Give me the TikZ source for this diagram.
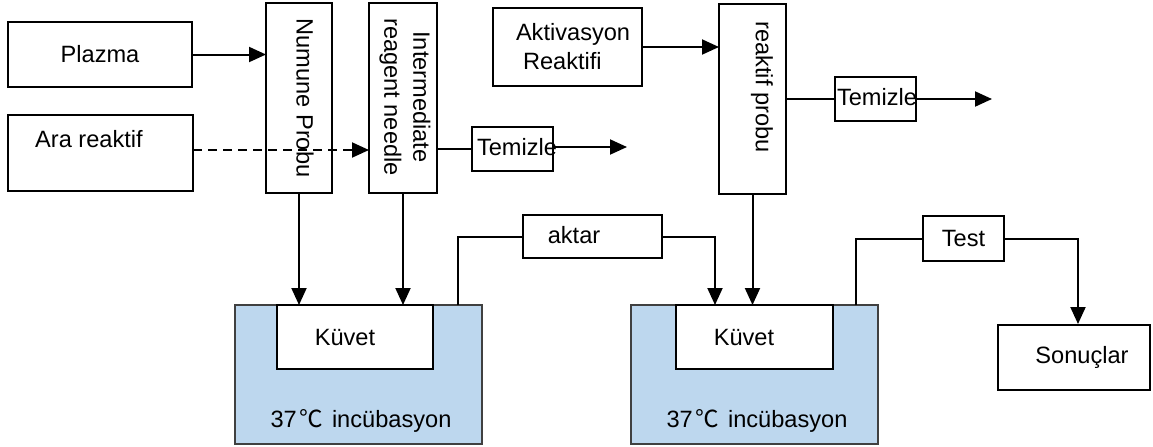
\documentclass[tikz,border=0pt]{standalone}
\usepackage{fontspec}
\setmainfont{Liberation Sans}
\newfontfamily\cjkfont{Noto Sans CJK SC}
\usetikzlibrary{arrows.meta}
\definecolor{bathcol}{HTML}{BDD7EE}
\begin{document}
\begin{tikzpicture}[x=0.5pt,y=-0.5pt,
  every node/.style={font=\fontsize{11.8pt}{14.5pt}\selectfont, inner sep=0pt, outer sep=0pt},
  box/.style={draw, line width=1pt, fill=white},
  bathbox/.style={draw=black!75, line width=0.6pt, fill=bathcol},
  conn/.style={line width=1pt},
  arr/.style={line width=1pt, -{Triangle[length=8.5pt,width=7.5pt]}},
]
\useasboundingbox (0,0) rectangle (1153,446);

% left inputs
\node[box, minimum width=92pt, minimum height=32.5pt] (plazma) at (100,54.5) {Plazma};
\node[box, minimum width=92.5pt, minimum height=38pt] (ara) at (100.5,153) {};
\node (aratxt) at (89,139) {Ara reaktif};

% probes
\node[box, minimum width=33pt, minimum height=95pt] (numune) at (299,98) {};
\node[rotate=-90] (numunetxt) at (305,98) {Numune Probu};
\node[box, minimum width=34pt, minimum height=95pt] (inter) at (403,98) {};
\node[rotate=-90, align=center] (intertxt) at (405,97) {Intermediate\\reagent needle};

\node[box, minimum width=40.5pt, minimum height=22pt] (tem1) at (512.5,149) {};
\node[anchor=west] (tem1txt) at (477,147) {Temizle};

\node[box, minimum width=74.5pt, minimum height=39pt] (aktiv) at (567.5,47) {};
\node[anchor=west, align=left] (aktivtxt) at (516,47) {Aktivasyon\\\hspace*{3.5pt}Reaktifi};

\node[box, minimum width=33.5pt, minimum height=95pt] (rp) at (752.5,99) {};
\node[rotate=-90] (rptxt) at (762,87) {reaktif probu};

\node[box, minimum width=40.5pt, minimum height=22pt] (tem2) at (875.5,99) {};
\node[anchor=west] (tem2txt) at (837,97) {Temizle};

% incubation baths
\node[bathbox, minimum width=123.5pt, minimum height=69.5pt] (bath1) at (358.5,374.5) {};
\node[box, minimum width=78pt, minimum height=32pt] (kuvet1) at (355,337) {};
\node (kuvet1txt) at (345,337) {Küvet};
\node (bath1txt) at (361,421) {37\hspace{1.5pt}{\cjkfont ℃}\hspace{1pt} incübasyon};

\node[bathbox, minimum width=123.5pt, minimum height=69.5pt] (bath2) at (754.5,374.5) {};
\node[box, minimum width=78.5pt, minimum height=32pt] (kuvet2) at (754.5,337) {};
\node (kuvet2txt) at (744,337) {Küvet};
\node (bath2txt) at (757,421) {37\hspace{1.5pt}{\cjkfont ℃}\hspace{1pt} incübasyon};

% transfer and test
\node[box, minimum width=69.5pt, minimum height=21.5pt] (aktar) at (592.5,236.5) {};
\node (aktartxt) at (574,235) {aktar};
\node[box, minimum width=40.5pt, minimum height=22.5pt] (test) at (963.5,238.5) {Test};
\node[box, minimum width=76pt, minimum height=32.5pt] (sonuc) at (1074,357.5) {};
\node (sonuctxt) at (1082,357) {Sonuçlar};

\coordinate (t1end) at (627,147);
\coordinate (t2end) at (992,99);
\coordinate (b1out) at (458,305);
\coordinate (k2in) at (715,305);
\coordinate (b2out) at (856,305);
\coordinate (sin) at (1078,324);

% connectors
\draw[arr] (plazma.east) -- (numune.west |- plazma.east);
\draw[arr, dashed, dash pattern=on 4.5pt off 3pt] (ara.east |- 0,150) -- (inter.west |- 0,150);
\draw[conn] (inter.east |- tem1.west) -- (tem1.west);
\draw[arr] (tem1.east |- t1end) -- (t1end);
\draw[arr] (aktiv.east) -- (rp.west |- aktiv.east);
\draw[conn] (rp.east |- tem2.west) -- (tem2.west);
\draw[arr] (tem2.east) -- (t2end);
\draw[arr] (numune.south) -- (numune.south |- kuvet1.north);
\draw[arr] (inter.south) -- (inter.south |- kuvet1.north);
\draw[arr] (rp.south) -- (rp.south |- kuvet2.north);
\draw[conn] (b1out) |- (aktar.west);
\draw[arr] (aktar.east) -| (k2in);
\draw[conn] (b2out) |- (test.west);
\draw[arr] (test.east) -| (sin);
\end{tikzpicture}
\end{document}
